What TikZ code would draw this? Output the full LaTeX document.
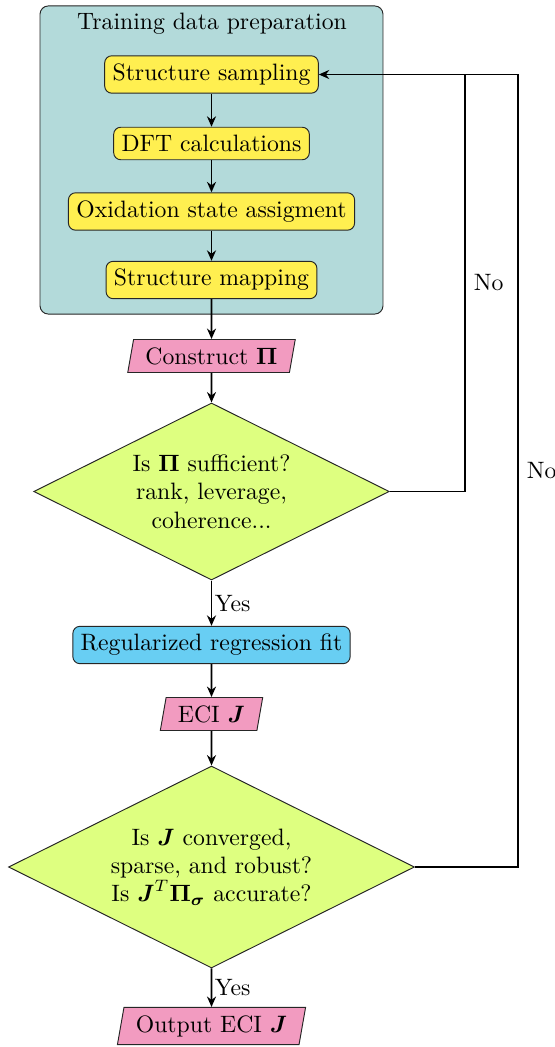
\documentclass[tikz,border=0pt]{standalone}
\usepackage{amsmath}
\usetikzlibrary{shapes.geometric,arrows.meta}
\definecolor{boxyellow}{RGB}{255,239,80}
\definecolor{diafill}{RGB}{222,255,128}
\definecolor{fitblue}{RGB}{104,206,243}
\definecolor{iopink}{RGB}{242,155,192}
\definecolor{prepteal}{RGB}{179,218,218}
\begin{document}
\begin{tikzpicture}[x=0.4219pt,y=-0.4219pt,
  container/.style={draw=black!85, line width=0.4pt, rounded corners=3.5pt, fill=prepteal,
     minimum width=144.7pt, minimum height=130pt, inner sep=0pt},
  procbox/.style={draw=black!85, line width=0.4pt, rounded corners=3pt, fill=boxyellow},
  fitbox/.style={draw=black!85, line width=0.4pt, rounded corners=3pt, fill=fitblue},
  iobox/.style={draw=black!85, line width=0.4pt, fill=iopink, trapezium,
     trapezium left angle=80, trapezium right angle=100, inner xsep=5pt},
  decision/.style={draw=black!85, line width=0.4pt, fill=diafill, diamond, aspect=2,
     inner sep=0pt, align=center},
  conn/.style={thick, -{Stealth[length=4.4pt,width=3.8pt]}},
  lbl/.style={right, inner sep=1pt}]
\useasboundingbox (0,0) rectangle (554,1047);
\node[container] (prep) at (211.5,160) {};
\node (title) at (212,24) {Training data preparation};
\node[procbox] (ss) at (211.5,74.5) {Structure sampling};
\node[procbox] (dft) at (211.5,143.5) {DFT calculations};
\node[procbox] (ox) at (211.5,211.5) {Oxidation state assigment};
\node[procbox] (sm) at (211.5,280) {Structure mapping};
\node[iobox] (cp) at (211.5,356) {Construct $\boldsymbol{\Pi}$};
\node[decision, minimum width=150pt, minimum height=74.7pt] (d1) at (211.5,491.5)
   {Is $\boldsymbol{\Pi}$ sufficient?\\ rank, leverage,\\ coherence...};
\node[fitbox] (rr) at (211.5,645) {Regularized regression fit};
\node[iobox] (eci) at (211.5,714) {ECI $\boldsymbol{J}$};
\node[decision, minimum width=171.3pt, minimum height=85.2pt] (d2) at (211.5,867)
   {Is $\boldsymbol{J}$ converged,\\ sparse, and robust?\\ Is $\boldsymbol{J}^T\boldsymbol{\Pi}_{\boldsymbol{\sigma}}$ accurate?};
\node[iobox] (out) at (211.5,1026) {Output ECI $\boldsymbol{J}$};
\coordinate (loopA) at (465,0);
\coordinate (loopB) at (518,0);
\draw[conn] (ss) -- (dft);
\draw[conn] (dft) -- (ox);
\draw[conn] (ox) -- (sm);
\draw[conn] (sm) -- (cp);
\draw[conn] (cp) -- (d1.north);
\draw[conn] (d1.south) -- node[lbl]{Yes} (rr);
\draw[conn] (rr) -- (eci);
\draw[conn] (eci) -- (d2.north);
\draw[conn] (d2.south) -- node[lbl]{Yes} (out);
\draw[conn] (d1.east) -| node[pos=0.75,right]{No} (loopA |- ss.east) -- (ss.east);
\draw[thick] (d2.east) -| node[pos=0.75,right]{No} (loopB |- ss.east) -- (loopA |- ss.east);
\end{tikzpicture}
\end{document}
